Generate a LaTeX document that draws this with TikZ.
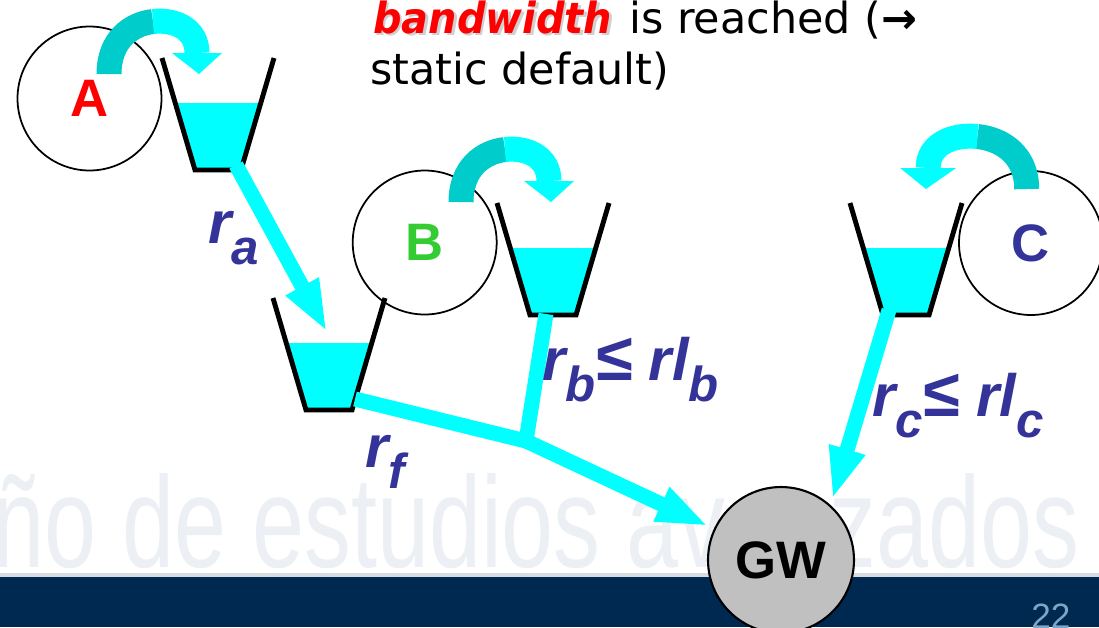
\documentclass[tikz,border=0pt]{standalone}
\usepackage{fontspec}
\setmainfont{Liberation Sans}
\newfontfamily\slidefont{DejaVu Sans}
\usetikzlibrary{arrows.meta}
\definecolor{cflow}{RGB}{0,255,255}
\definecolor{cflowdark}{RGB}{0,204,204}
\definecolor{clab}{RGB}{51,51,153}
\definecolor{cgreen}{RGB}{51,204,51}
\definecolor{cgw}{RGB}{192,192,192}
\definecolor{cbar}{RGB}{0,41,82}
\definecolor{cbaredge}{RGB}{214,220,226}
\definecolor{cmark}{RGB}{236,240,245}
\definecolor{cpage}{RGB}{125,165,198}
\newcommand{\lowsub}[1]{\raisebox{-12pt}{\fontsize{28}{30}\selectfont #1}}
\newcommand{\ratele}{{\fontsize{38}{40}\selectfont ≤}}
\newcommand{\bucket}[2]{%
  \begin{scope}[shift={(#1,#2)}]
    \fill[cflow] (-23,0) -- (23,0) -- (42.7,-67) -- (-42.7,-67) -- cycle;
    \draw[line width=2.8pt] (-56,-112) -- (-23,0) -- (23,0) -- (56,-112);
  \end{scope}}
\newcommand{\curlarrow}[3]{%
  \begin{scope}[shift={(#1,#2)},xscale=#3]
    \draw[cflowdark,line width=0.5cm] (0,0) .. controls (0,-34) and (22,-50) .. (44,-52.5);
    \draw[cflow,line width=0.5cm] (44,-52.5) .. controls (66,-55) and (88,-45) .. (88,-21);
    \fill[cflow] (63,-21) -- (113,-21) -- (90,0) -- cycle;
  \end{scope}}

\begin{document}
\begin{tikzpicture}[x=0.02cm,y=-0.02cm,
    circ/.style={circle,draw,line width=1pt,minimum size=2.88cm,inner sep=0pt,
      font=\bfseries\fontsize{30}{32}\selectfont},
    flow/.style={cflow,line width=0.3cm},
    flowtip/.style={flow,-{Triangle[length=1.04cm,width=0.68cm]}},
    lab/.style={anchor=base west,inner sep=0pt,text=clab,
      font=\bfseries\itshape\fontsize{34}{38}\selectfont},
    slide/.style={anchor=base west,inner sep=0pt,
      font=\slidefont\fontsize{24.4}{28}\selectfont}]
  \useasboundingbox (0,0) rectangle (1099,627);
  \clip (0,0) rectangle (1099,627);
  \fill[white] (0,0) rectangle (1099,627);
  % slide background
  \node[anchor=base west,inner sep=0pt,text=cmark] (mark) at (-8,567)
    {\resizebox{21.74cm}{1.88cm}{ño de estudios avanzados}};
  \fill[cbaredge] (0,573) rectangle (1099,577);
  \fill[cbar] (0,577) rectangle (1099,627);
  \node[anchor=base west,inner sep=0pt,text=cpage,font=\fontsize{20}{22}\selectfont] (pg) at (1031,628) {22};
  % sources and gateway
  \node[circ,text=red] (A) at (89.5,98.5) {A};
  \node[circ,text=cgreen] (B) at (424.7,242.5) {B};
  \node[circ,text=clab] (C) at (1031,243) {C};
  \node[circ,fill=cgw,line width=1.2pt,minimum size=2.92cm] (GW) at (781,560) {GW};
  \curlarrow{109}{74}{1}
  \curlarrow{461}{202}{1}
  \curlarrow{1026.7}{189}{-1.12}
  % buckets
  \bucket{218}{170}
  \bucket{553}{315}
  \bucket{329}{410}
  \bucket{906}{315}
  \coordinate (qa) at (236,165);
  \coordinate (fin) at (327,332);
  \coordinate (qf) at (355,399);
  \coordinate (qb) at (546,314);
  \coordinate (j) at (526,441);
  \coordinate (qc) at (889,310);
  \draw[flowtip] (qa) -- (fin);
  \draw[flow] (qf) -- (j);
  \draw[flow] (qb) -- (j);
  \draw[flowtip,shorten >=0.12cm] (j) -- (GW);
  \draw[flowtip,shorten >=0.12cm] (qc) -- (GW.48);
  % rates
  \node[lab] (ra) at (208,243) {r\lowsub{a}};
  \node[lab] (rf) at (365,467) {r\lowsub{f}};
  \node[lab] (rb) at (542,380) {r\lowsub{b}\ratele\ rl\lowsub{b}};
  \node[lab] (rc) at (872,416) {r\lowsub{c}\ratele\ rl\lowsub{c}};
  % slide text
  \node[slide,text=black!30,opacity=0.6] (bwshade) at (375.5,35.5) {\scalebox{0.93}[1]{\bfseries\itshape bandwidth}};
  \node[slide,text=red] (bw) at (373,33) {\scalebox{0.93}[1]{\bfseries\itshape bandwidth}};
  \node[slide] (reach) at (629,33) {is reached (\textbf{→}};
  \node[slide] (static) at (370,84) {static default)};
\end{tikzpicture}
\end{document}
